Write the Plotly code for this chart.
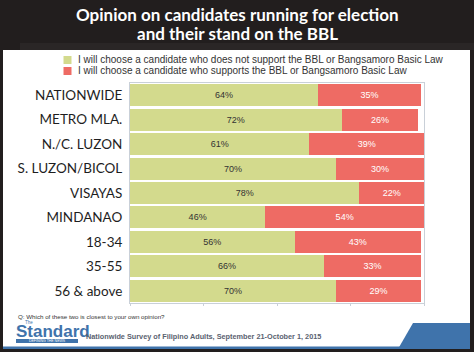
import plotly.graph_objects as go

W, H = 474, 352

categories = ["NATIONWIDE", "METRO MLA.", "N./C. LUZON", "S. LUZON/BICOL", "VISAYAS",
              "MINDANAO", "18-34", "35-55", "56 & above"]
not_support = [64, 72, 61, 70, 78, 46, 56, 66, 70]
support = [35, 26, 39, 30, 22, 54, 43, 33, 29]

legend_labels = ["I will choose a candidate who does not support the BBL or Bangsamoro Basic Law",
                 "I will choose a candidate who supports the BBL or Bangsamoro Basic Law"]
title_lines = ["Opinion on candidates running for election", "and their stand on the BBL"]
question = "Q: Which of these two is closest to your own opinion?"
source = "Nationwide Survey of Filipino Adults, September 21-October 1, 2015"

GREEN = "#d3da8d"
RED = "#ee6b64"
DARK = "#221e1e"
BLUE = "#3f73ab"


def px(x):
    return x / W


def py(y):
    return 1 - y / H


fig = go.Figure()
fig.add_trace(go.Bar(
    y=categories, x=not_support, orientation="h", marker=dict(color=GREEN, line=dict(width=0)),
    text=[f"{v}%" for v in not_support], textposition="inside", insidetextanchor="middle",
    textfont=dict(family="Liberation Sans, Arial", size=9, color="#333333"),
    name=legend_labels[0], showlegend=False, hoverinfo="skip"))
fig.add_trace(go.Bar(
    y=categories, x=support, orientation="h", marker=dict(color=RED, line=dict(width=0)),
    text=[f"{v}%" for v in support], textposition="inside", insidetextanchor="middle",
    textfont=dict(family="Liberation Sans, Arial", size=9, color="#ffffff"),
    name=legend_labels[1], showlegend=False, hoverinfo="skip"))

shapes = []
# white panel
shapes.append(dict(type="rect", xref="paper", yref="paper", x0=px(3), x1=px(470), y0=py(349), y1=py(50),
                   fillcolor="white", line=dict(width=0), layer="below"))
# subtle lighter band above panel
shapes.append(dict(type="rect", xref="paper", yref="paper", x0=px(20), x1=px(474), y0=py(50), y1=py(43),
                   fillcolor="#2a2626", line=dict(width=0), layer="below"))
# bottom blue line
shapes.append(dict(type="rect", xref="paper", yref="paper", x0=px(3), x1=px(470), y0=py(349), y1=py(346.5),
                   fillcolor=BLUE, line=dict(width=0)))
# blue parallelogram
path = (f"M {px(398)},{py(349)} L {px(413)},{py(323)} L {px(470)},{py(323)} "
        f"L {px(470)},{py(349)} Z")
shapes.append(dict(type="path", xref="paper", yref="paper", path=path, fillcolor=BLUE, line=dict(width=0)))
# legend squares
for i, c in enumerate([GREEN, RED]):
    yc = 60 + i * 11
    shapes.append(dict(type="rect", xref="paper", yref="paper", x0=px(63.5), x1=px(71.5),
                       y0=py(yc + 4), y1=py(yc - 4), fillcolor=c, line=dict(width=0)))
# logo underline bar
shapes.append(dict(type="rect", xref="paper", yref="paper", x0=px(16), x1=px(78), y0=py(343), y1=py(339),
                   fillcolor=BLUE, line=dict(width=0)))

annotations = []
for i, t in enumerate(title_lines):
    annotations.append(dict(text=t, xref="paper", yref="paper", x=px(237), y=py(15 + i * 18),
                            xanchor="center", yanchor="middle", showarrow=False,
                            font=dict(family="Lato", size=17, color="white", weight="bold")))
for i, t in enumerate(legend_labels):
    annotations.append(dict(text=t, xref="paper", yref="paper", x=px(76), y=py(60 + i * 11),
                            xanchor="left", yanchor="middle", showarrow=False,
                            font=dict(family="Liberation Sans, Arial", size=10, color="#333333")))
annotations.append(dict(text=question, xref="paper", yref="paper", x=px(16), y=py(316.5),
                        xanchor="left", yanchor="middle", showarrow=False,
                        font=dict(family="Liberation Sans, Arial", size=6.2, color="#333333")))
annotations.append(dict(text="Standard", xref="paper", yref="paper", x=px(14), y=py(331),
                        xanchor="left", yanchor="middle", showarrow=False,
                        font=dict(family="Liberation Sans, Arial", size=17, color=BLUE, weight="bold")))
annotations.append(dict(text="The", xref="paper", yref="paper", x=px(29), y=py(322.5),
                        xanchor="center", yanchor="middle", showarrow=False,
                        font=dict(family="Liberation Sans, Arial", size=4.5, color=BLUE)))
annotations.append(dict(text="DEFINING THE NEWS", xref="paper", yref="paper", x=px(47), y=py(341),
                        xanchor="center", yanchor="middle", showarrow=False,
                        font=dict(family="Liberation Sans, Arial", size=3.5, color="white")))
annotations.append(dict(text=source, xref="paper", yref="paper", x=px(84), y=py(336),
                        xanchor="left", yanchor="middle", showarrow=False,
                        font=dict(family="Liberation Sans, Arial", size=7.3, color="#5a6270", weight="bold")))

fig.update_layout(
    width=W, height=H, autosize=False,
    margin=dict(l=0, r=0, t=0, b=0),
    paper_bgcolor=DARK, plot_bgcolor="white",
    barmode="stack", bargap=0.1,
    shapes=shapes, annotations=annotations,
    uniformtext=dict(minsize=8, mode="show"),
    xaxis=dict(domain=[px(130), px(424)], range=[0, 100], showticklabels=False, showgrid=False,
               zeroline=False, showline=True, mirror=True, linecolor="#c9d0d8", linewidth=1,
               ticks="outside", ticklen=2, tickcolor="#c9d0d8", dtick=25, fixedrange=True),
    yaxis=dict(domain=[py(303), py(83)], autorange="reversed", showgrid=False, zeroline=False,
               showline=True, mirror=True, linecolor="#c9d0d8", linewidth=1, ticks="",
               tickfont=dict(family="Lato", size=13.5, color="#1e1e1e"),
               ticklabelstandoff=4, fixedrange=True),
)

fig.write_html("out.html")
